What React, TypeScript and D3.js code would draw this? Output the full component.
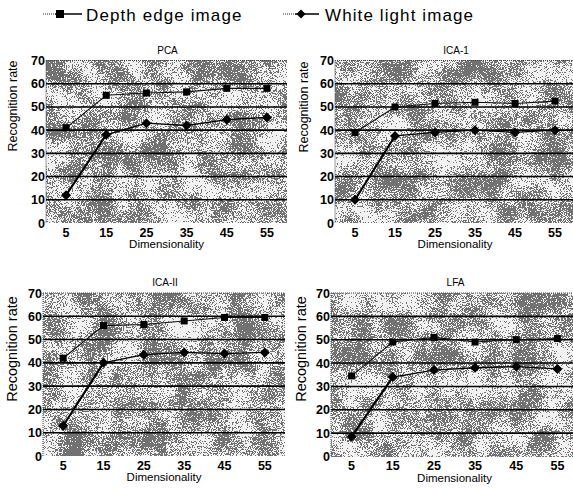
import React from "react";
import * as d3 from "d3";

// values
const dimensions = ["5", "15", "25", "35", "45", "55"];
const yTicks = [0, 10, 20, 30, 40, 50, 60, 70];
const gridValues = [10, 20, 30, 40, 50, 60];
const titles = ["PCA", "ICA-1", "ICA-II", "LFA"];
const seriesNames = ["Depth edge image", "White light image"];

const depthPCA = [41, 55, 56, 56.5, 58, 58];
const whitePCA = [12, 38, 43, 42, 44.5, 45.5];
const depthICA1 = [39, 50, 51.5, 52, 51.5, 52.5];
const whiteICA1 = [10, 37.5, 39, 40, 39, 40];
const depthICA2 = [42, 56, 56.5, 58, 59.5, 59.5];
const whiteICA2 = [13, 40, 43.5, 44.5, 44, 44.5];
const depthLFA = [34.5, 49, 51, 49, 50, 50.5];
const whiteLFA = [8.5, 34, 37, 38, 38.5, 37.5];

const frames = [
  { left: 46, right: 287, top: 60.5, bottom: 223, labelX: 13, labelY: 106, labelSize: 12.5 },
  { left: 335, right: 575, top: 60.5, bottom: 223, labelX: 304, labelY: 107, labelSize: 12.5 },
  { left: 43, right: 285, top: 293, bottom: 456, labelX: 12, labelY: 349, labelSize: 14.5 },
  { left: 331, right: 578, top: 293, bottom: 456.5, labelX: 301, labelY: 349, labelSize: 14.5 },
];

const panels = [
  { title: titles[0], depth: depthPCA, white: whitePCA, ...frames[0] },
  { title: titles[1], depth: depthICA1, white: whiteICA1, ...frames[1] },
  { title: titles[2], depth: depthICA2, white: whiteICA2, ...frames[2] },
  { title: titles[3], depth: depthLFA, white: whiteLFA, ...frames[3] },
];

const FONT = "'Liberation Sans', Arial, sans-serif";

const Square = ({ x, y, s = 7 }) => <rect x={x - s / 2} y={y - s / 2} width={s} height={s} fill="#000" />;
const Diamond = ({ x, y, s = 5 }) => (
  <path d={`M${x},${y - s}L${x + s},${y}L${x},${y + s}L${x - s},${y}Z`} fill="#000" />
);

const Panel = ({ p, idx }) => {
  const x = d3.scaleBand().domain(dimensions).range([p.left, p.right]);
  const y = d3.scaleLinear().domain([0, 70]).range([p.bottom, p.top]);
  const cx = (d) => x(d) + x.bandwidth() / 2;
  const line = d3.line<number>().x((d, i) => cx(dimensions[i])).y((d) => y(d));
  const midX = (p.left + p.right) / 2;
  return (
    <g>
      <rect x={p.left} y={p.top} width={p.right - p.left} height={p.bottom - p.top} fill="#b4b4b4" />
      <rect x={p.left} y={p.top} width={p.right - p.left} height={p.bottom - p.top}
        filter={`url(#dither${idx})`} />
      {gridValues.map((g) => (
        <line key={g} x1={p.left} x2={p.right} y1={y(g)} y2={y(g)} stroke="#000" strokeWidth={1.6} />
      ))}
      <line x1={p.left} x2={p.left} y1={p.top} y2={p.bottom} stroke="#444" strokeWidth={1} strokeDasharray="1,1" />
      <line x1={p.left} x2={p.right} y1={p.top} y2={p.top} stroke="#444" strokeWidth={1} strokeDasharray="1,1" />
      {/* depth edge series */}
      <path d={line(p.depth) as string} fill="none" stroke="#111" strokeWidth={1.1} />
      {p.depth.map((v, i) => <Square key={i} x={cx(dimensions[i])} y={y(v)} />)}
      {/* white light series */}
      <line x1={cx(dimensions[0])} y1={y(p.white[0])} x2={cx(dimensions[1])} y2={y(p.white[1])}
        stroke="#000" strokeWidth={2} />
      <path d={line(p.white) as string} fill="none" stroke="#000" strokeWidth={1.3} />
      {p.white.map((v, i) => <Diamond key={i} x={cx(dimensions[i])} y={y(v)} />)}
      {yTicks.map((t) => (
        <text key={t} x={p.left - 1} y={y(t) + 4.5} textAnchor="end" fontSize={12.5} fontWeight="bold"
          fontFamily={FONT}>{t}</text>
      ))}
      {dimensions.map((d) => (
        <text key={d} x={cx(d)} y={p.bottom + 13.5} textAnchor="middle" fontSize={12.5} fontWeight="bold"
          fontFamily={FONT}>{d}</text>
      ))}
      <text x={midX} y={p.bottom + 25} textAnchor="middle" fontSize={11.5} fontFamily={FONT}>Dimensionality</text>
      <text x={midX + 1} y={p.top - 7} textAnchor="middle" fontSize={10} fontFamily={FONT}>{p.title}</text>
      <text transform={`translate(${p.labelX},${p.labelY}) rotate(-90)`} dy="0.35em" textAnchor="middle"
        fontSize={p.labelSize} fontFamily={FONT}>Recognition rate</text>
    </g>
  );
};

const DitherFilter = ({ id, seed }) => (
  <filter id={id} x="0" y="0" width="100%" height="100%" colorInterpolationFilters="sRGB">
    <feTurbulence type="fractalNoise" baseFrequency="0.035" numOctaves={3} seed={seed} result="low" />
    <feColorMatrix in="low" type="matrix" values="1 0 0 0 0 1 0 0 0 0 1 0 0 0 0 0 0 0 0 1" result="lowG" />
    <feTurbulence type="fractalNoise" baseFrequency="1.2" numOctaves={1} seed={seed + 11} result="high" />
    <feColorMatrix in="high" type="matrix" values="1 0 0 0 0 1 0 0 0 0 1 0 0 0 0 0 0 0 0 1" result="highG" />
    <feComposite in="lowG" in2="highG" operator="arithmetic" k1="0" k2="0.9" k3="1.6" k4="-0.74" result="sum" />
    <feComponentTransfer in="sum">
      <feFuncR type="discrete" tableValues="0.45 0.95" />
      <feFuncG type="discrete" tableValues="0.45 0.95" />
      <feFuncB type="discrete" tableValues="0.45 0.95" />
    </feComponentTransfer>
  </filter>
);

const App = () => {
  return (
    <svg width={573} height={489} style={{ position: "absolute", left: 0, top: 0, background: "#fff" }}>
      <defs>
        {panels.map((p, i) => <DitherFilter key={i} id={`dither${i}`} seed={i * 5 + 2} />)}
      </defs>
      {/* legend */}
      <g>
        <line x1={43} x2={55} y1={14} y2={14} stroke="#333" strokeWidth={1} strokeDasharray="1,1" />
        <line x1={55} x2={82} y1={14} y2={14} stroke="#000" strokeWidth={1.5} />
        <Square x={60} y={14} s={8} />
        <text x={86} y={20.5} fontSize={17} letterSpacing={1.1} fontFamily={FONT}>{seriesNames[0]}</text>
        <line x1={283} x2={295} y1={14} y2={14} stroke="#333" strokeWidth={1} strokeDasharray="1,1" />
        <line x1={295} x2={319} y1={14} y2={14} stroke="#000" strokeWidth={1.5} />
        <Diamond x={301} y={14} s={4.5} />
        <text x={325} y={20.5} fontSize={17} letterSpacing={1.1} fontFamily={FONT}>{seriesNames[1]}</text>
      </g>
      {panels.map((p, i) => <Panel key={i} p={p} idx={i} />)}
    </svg>
  );
};

export default App;
